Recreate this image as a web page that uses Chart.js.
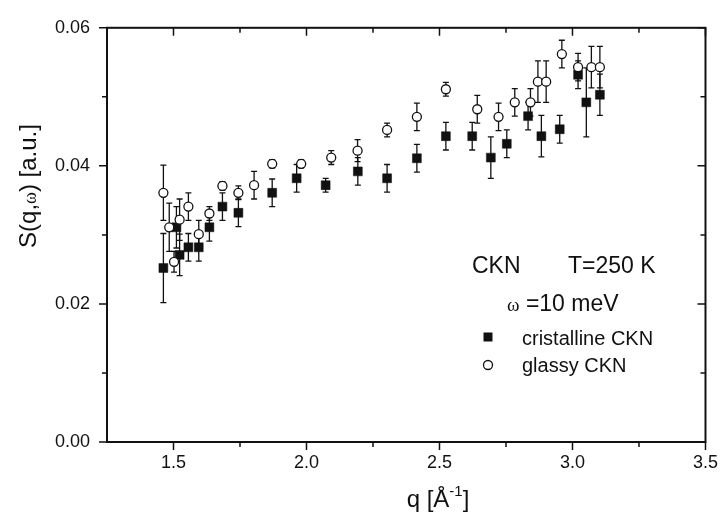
<!DOCTYPE html>
<html>
<head>
<meta charset="utf-8">
<script src="https://cdn.jsdelivr.net/npm/chart.js@4.4.1/dist/chart.umd.min.js"></script>
<style>
  html, body { margin: 0; padding: 0; background: #fff; }
  canvas { display: block; }
</style>
</head>
<body>
<canvas id="sqwChart" width="728" height="518"></canvas>
<script>
// S(q,ω) of CKN, T = 250 K, ω = 10 meV: cristalline vs glassy
const crystQ   = [1.462, 1.511, 1.523, 1.556, 1.595, 1.635, 1.684, 1.744, 1.871, 1.963, 2.072, 2.193,
                  2.303, 2.415, 2.524, 2.623, 2.693, 2.753, 2.833, 2.883, 2.952, 3.021, 3.052, 3.103];
const crystS   = [0.0252, 0.0311, 0.0271, 0.0282, 0.0282, 0.0311, 0.0341, 0.0332, 0.0361, 0.0382, 0.0372, 0.0392,
                  0.0382, 0.0411, 0.0443, 0.0443, 0.0412, 0.0432, 0.0472, 0.0443, 0.0453, 0.0532, 0.0492, 0.0503];
const crystErr = [0.005, 0.003, 0.003, 0.002, 0.002, 0.002, 0.002, 0.002, 0.002, 0.002, 0.001, 0.002,
                  0.002, 0.002, 0.002, 0.002, 0.003, 0.002, 0.002, 0.003, 0.002, 0.002, 0.005, 0.003];

const glassQ   = [1.462, 1.484, 1.502, 1.523, 1.556, 1.595, 1.635, 1.684, 1.744, 1.803, 1.871, 1.980, 2.093, 2.192,
                  2.303, 2.415, 2.524, 2.642, 2.722, 2.783, 2.842, 2.870, 2.901, 2.960, 3.021, 3.071, 3.103];
const glassS   = [0.0361, 0.0311, 0.0261, 0.0322, 0.0341, 0.0301, 0.0331, 0.0371, 0.0361, 0.0372, 0.0403, 0.0403, 0.0412, 0.0422,
                  0.0452, 0.0471, 0.0511, 0.0482, 0.0471, 0.0492, 0.0492, 0.0522, 0.0522, 0.0562, 0.0543, 0.0543, 0.0543];
const glassErr = [0.004, 0.0035, 0.0015, 0.003, 0.002, 0.002, 0.001, 0.0006, 0.001, 0.002, 0.0006, 0.0006, 0.001, 0.0016,
                  0.001, 0.002, 0.001, 0.002, 0.002, 0.002, 0.002, 0.003, 0.003, 0.002, 0.002, 0.003, 0.003];

const xTicks = [1.5, 2.0, 2.5, 3.0, 3.5];
const xMinorTicks = [1.75, 2.25, 2.75, 3.25];
const yTicks = [0.00, 0.02, 0.04, 0.06];
const yMinorTicks = [0.01, 0.03, 0.05];

const FONT = "'Liberation Sans', Arial, sans-serif";
const INK = "#111";

const toPoints = (qs, ss) => qs.map((q, i) => ({ x: q, y: ss[i] }));

// draws a row of text pieces with their own font / vertical shift
function drawRuns(ctx, runs, x, y, align) {
  let total = 0;
  runs.forEach(r => { ctx.font = r.font; r.w = ctx.measureText(r.t).width; total += r.w; });
  let cx = align === "center" ? x - total / 2 : x;
  ctx.textAlign = "left";
  ctx.textBaseline = "alphabetic";
  runs.forEach(r => {
    ctx.font = r.font;
    ctx.fillText(r.t, cx, y + (r.dy || 0));
    cx += r.w;
  });
}

const decorations = {
  id: "decorations",
  beforeDatasetsDraw(chart) {
    const { ctx, scales: { x, y } } = chart;
    ctx.save();
    ctx.strokeStyle = INK;
    ctx.lineWidth = 1.3;
    chart.data.datasets.forEach(ds => {
      ds.errors.forEach((e, i) => {
        const p = ds.data[i];
        const px = x.getPixelForValue(p.x);
        const top = y.getPixelForValue(p.y + e);
        const bot = y.getPixelForValue(p.y - e);
        ctx.beginPath();
        ctx.moveTo(px, top); ctx.lineTo(px, bot);
        ctx.moveTo(px - 3, top); ctx.lineTo(px + 3, top);
        ctx.moveTo(px - 3, bot); ctx.lineTo(px + 3, bot);
        ctx.stroke();
      });
    });
    ctx.restore();
  },
  afterDraw(chart) {
    const { ctx, chartArea: a, scales: { x, y } } = chart;
    ctx.save();
    ctx.strokeStyle = INK;
    ctx.fillStyle = INK;

    // frame
    ctx.lineWidth = 2;
    ctx.strokeRect(a.left, a.top, a.right - a.left, a.bottom - a.top);

    // ticks: outward on left/bottom, inward on top/right
    ctx.lineWidth = 1.5;
    ctx.beginPath();
    const xt = (v, len) => {
      const px = x.getPixelForValue(v);
      ctx.moveTo(px, a.bottom); ctx.lineTo(px, a.bottom + len);
      ctx.moveTo(px, a.top); ctx.lineTo(px, a.top + len);
    };
    const yt = (v, len) => {
      const py = y.getPixelForValue(v);
      ctx.moveTo(a.left, py); ctx.lineTo(a.left - len, py);
      ctx.moveTo(a.right, py); ctx.lineTo(a.right - len, py);
    };
    xTicks.forEach(v => xt(v, 8));
    xMinorTicks.forEach(v => xt(v, 5));
    yTicks.forEach(v => yt(v, 8));
    yMinorTicks.forEach(v => yt(v, 5));
    ctx.stroke();

    // axis titles
    drawRuns(ctx, [
      { t: "q [Å", font: `24px ${FONT}` },
      { t: "-1", font: `15px ${FONT}`, dy: -11 },
      { t: "]", font: `24px ${FONT}` }
    ], 438, 507, "center");

    ctx.save();
    ctx.translate(36, 186);
    ctx.rotate(-Math.PI / 2);
    drawRuns(ctx, [
      { t: "S(q,", font: `24px ${FONT}` },
      { t: "ω", font: `18px 'Liberation Serif', serif` },
      { t: ") [a.u.]", font: `24px ${FONT}` }
    ], 0, 0, "center");
    ctx.restore();

    // annotation
    ctx.font = `23px ${FONT}`;
    ctx.textAlign = "left";
    ctx.textBaseline = "alphabetic";
    ctx.fillText("CKN", 472, 273);
    ctx.fillText("T=250 K", 568, 273);
    drawRuns(ctx, [
      { t: "ω", font: `19px 'Liberation Serif', serif` },
      { t: " =10 meV", font: `23px ${FONT}` }
    ], 507, 311, "left");

    // legend
    ctx.fillRect(483.5, 332.5, 9, 9);
    ctx.font = `20px ${FONT}`;
    ctx.fillText("cristalline CKN", 522, 345);
    ctx.beginPath();
    ctx.lineWidth = 1.3;
    ctx.fillStyle = "#fff";
    ctx.arc(488, 365, 4.5, 0, Math.PI * 2);
    ctx.fill();
    ctx.stroke();
    ctx.fillStyle = INK;
    ctx.fillText("glassy CKN", 522, 372);

    ctx.restore();
  }
};

new Chart(document.getElementById("sqwChart"), {
  type: "scatter",
  data: {
    datasets: [
      {
        label: "glassy CKN",
        data: toPoints(glassQ, glassS),
        errors: glassErr,
        pointStyle: "circle",
        pointRadius: 4.5,
        pointBackgroundColor: "#fff",
        pointBorderColor: INK,
        pointBorderWidth: 1.3,
        order: 0
      },
      {
        label: "cristalline CKN",
        data: toPoints(crystQ, crystS),
        errors: crystErr,
        pointStyle: "rect",
        pointRadius: 6.3,
        pointBackgroundColor: INK,
        pointBorderColor: INK,
        pointBorderWidth: 0.5,
        order: 1
      }
    ]
  },
  options: {
    responsive: false,
    devicePixelRatio: 1,
    animation: false,
    layout: { padding: { top: 16, right: 15, left: 0, bottom: 0 } },
    plugins: {
      legend: { display: false },
      tooltip: { enabled: false }
    },
    scales: {
      x: {
        type: "linear",
        min: 1.25,
        max: 3.5,
        grid: { display: false, drawTicks: false },
        border: { display: false },
        afterBuildTicks: s => { s.ticks = xTicks.map(v => ({ value: v })); },
        afterFit: s => { s.height = 76; },
        ticks: {
          padding: 10,
          color: INK,
          font: { family: FONT, size: 18 },
          callback: v => v.toFixed(1)
        }
      },
      y: {
        min: 0,
        max: 0.06,
        grid: { display: false, drawTicks: false },
        border: { display: false },
        afterBuildTicks: s => { s.ticks = yTicks.map(v => ({ value: v })); },
        afterFit: s => { s.width = 107; },
        ticks: {
          padding: 17,
          color: INK,
          font: { family: FONT, size: 18 },
          callback: v => v.toFixed(2)
        }
      }
    }
  },
  plugins: [decorations]
});
</script>
</body>
</html>
